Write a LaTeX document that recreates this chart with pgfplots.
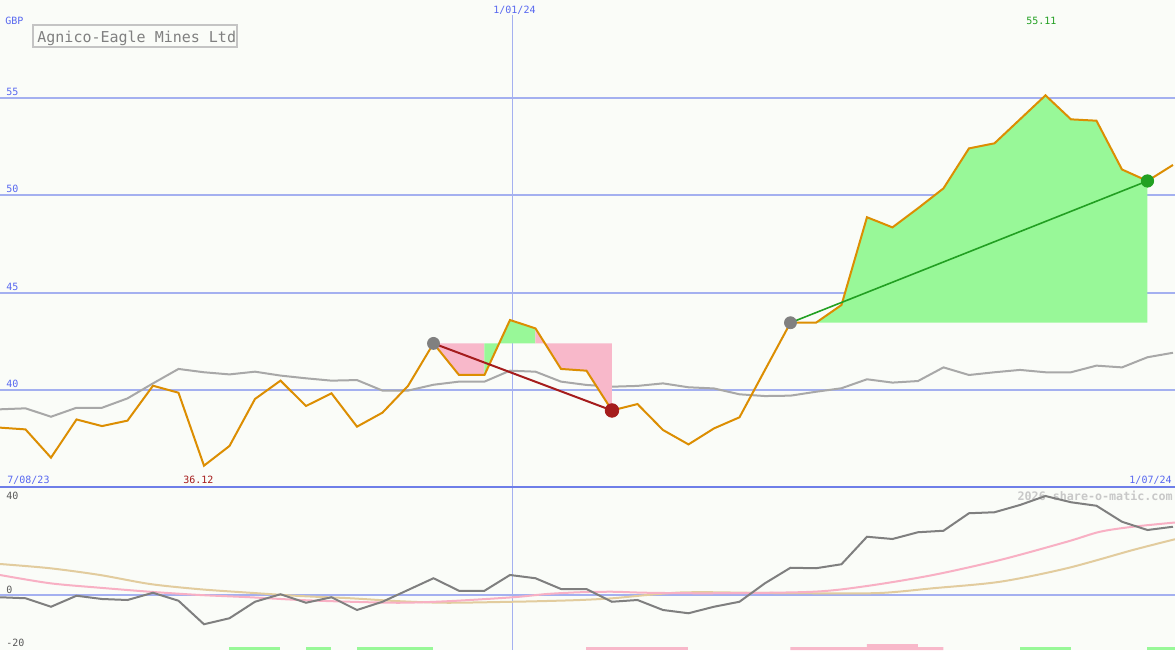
\documentclass[border=0pt]{standalone}
\usepackage{pgfplots}
\usepackage{pgfplotstable}
\pgfplotsset{compat=1.18}
\usepackage{fontspec}
\newfontfamily\mono{DejaVu Sans Mono}

\definecolor{bg}{HTML}{FAFCF8}
\definecolor{gridblue}{HTML}{A4B0F0}
\definecolor{sepblue}{HTML}{6E7EE8}
\definecolor{lblue}{HTML}{5868F0}
\definecolor{price}{HTML}{DC8E02}
\definecolor{mavg}{HTML}{A8A8A8}
\definecolor{upfill}{HTML}{98F898}
\definecolor{downfill}{HTML}{F8B8CA}
\definecolor{downline}{HTML}{A51C1C}
\definecolor{upline}{HTML}{22A022}
\definecolor{dotgrey}{HTML}{808080}
\definecolor{momgrey}{HTML}{7F7F7F}
\definecolor{sigpink}{HTML}{F8B0C4}
\definecolor{sigtan}{HTML}{E2CC9E}
\definecolor{boxgrey}{HTML}{C4C4C4}
\definecolor{titlegrey}{HTML}{808080}
\definecolor{lowlbl}{HTML}{5A5A5A}
\definecolor{wmark}{HTML}{C8C8C8}

% weekly closes (GBP), 10-week average, momentum
\pgfplotstableread{
i  p      ma     m
0  38.07  39.01  -0.9
1  37.98  39.06  -1.3
2  36.53  38.63  -4.7
3  38.49  39.09  -0.3
4  38.15  39.09  -1.6
5  38.43  39.57  -2.0
6  40.22  40.34   0.9
7  39.86  41.08  -2.3
8  36.12  40.91 -11.7
9  37.13  40.80  -9.3
10 39.54  40.94  -2.7
11 40.48  40.74   0.3
12 39.18  40.60  -3.1
13 39.83  40.48  -0.9
14 38.12  40.51  -6.0
15 38.84  39.97  -2.7
16 40.21  39.97   2.0
17 42.39  40.27   6.7
18 40.77  40.43   1.7
19 40.77  40.43   1.7
20 43.59  40.99   8.0
21 43.16  40.94   6.7
22 41.08  40.43   2.4
23 40.99  40.26   2.4
24 38.95  40.17  -2.7
25 39.28  40.21  -2.0
26 37.95  40.34  -6.0
27 37.21  40.14  -7.3
28 38.03  40.08  -4.7
29 38.60  39.78  -2.7
30 41.03  39.69   4.7
31 43.45  39.71  10.9
32 43.45  39.91  10.7
33 44.36  40.09  12.3
34 48.86  40.55  23.3
35 48.34  40.38  22.4
36 49.32  40.46  25.1
37 50.34  41.16  25.7
38 52.39  40.77  32.7
39 52.65  40.91  33.1
40 53.88  41.03  36.0
41 55.11  40.91  39.6
42 53.88  40.91  37.1
43 53.81  41.25  35.7
44 51.31  41.16  29.3
45 50.72  41.68  26.0
46 51.54  41.91  27.3
}\prices

\begin{document}
\begin{tikzpicture}
\fill[bg] (0pt,0pt) rectangle (587.5pt,325pt);
% watermark sits behind the plots
\begin{scope}[shift={(0pt,325pt)}, x=0.5pt, y=-0.5pt]
\node[anchor=base east, inner sep=0pt, text=wmark, font=\mono\bfseries\fontsize{5.85pt}{7pt}\selectfont] at (1173,500) {2026 share-o-matic.com};
\end{scope}

% upper panel: price
\begin{axis}[
    at={(0pt,81.5pt)}, anchor=south west,
    scale only axis, width=587.5pt, height=243.5pt,
    xmin=0, xmax=46.08, ymin=35.026, ymax=60,
    axis line style={draw=none}, major tick length=0pt,
    xtick={20.08}, ytick={40,45,50,55},
    xticklabels={}, yticklabels={},
    xmajorgrids, ymajorgrids,
    x grid style={gridblue, line width=0.5pt},
    y grid style={gridblue, line width=1pt},
]
\addplot[mavg, line width=1pt] table[x=i, y=ma] {\prices};

\addplot[fill=downfill, draw=none] coordinates {(17,42.39) (18,40.77) (19,40.77) (19,42.39)} -- cycle;
\addplot[fill=upfill, draw=none] coordinates {(19,42.39) (19,40.77) (20,43.59) (21,43.16) (21,42.39)} -- cycle;
\addplot[fill=downfill, draw=none] coordinates {(21,42.39) (21,43.16) (22,41.08) (23,40.99) (24,38.95) (24,42.39)} -- cycle;
\addplot[fill=upfill, draw=none] coordinates {(31,43.45) (32,43.45) (33,44.36) (34,48.86) (35,48.34) (36,49.32) (37,50.34) (38,52.39) (39,52.65) (40,53.88) (41,55.11) (42,53.88) (43,53.81) (44,51.31) (45,50.72) (45,43.45)} -- cycle;

\addplot[price, line width=1pt] table[x=i, y=p] {\prices};

\addplot[downline, line width=1pt] coordinates {(17,42.39) (24,38.95)};
\addplot[upline, line width=0.8pt] coordinates {(31,43.45) (45,50.72)};

\addplot[only marks, mark=*, mark size=3pt, mark options={draw=dotgrey, fill=dotgrey}] coordinates {(17,42.39) (31,43.45)};
\addplot[only marks, mark=*, mark size=3.4pt, mark options={draw=downline, fill=downline}] coordinates {(24,38.95)};
\addplot[only marks, mark=*, mark size=3.1pt, mark options={draw=upline, fill=upline}] coordinates {(45,50.72)};
\end{axis}

% lower panel: momentum
\begin{axis}[
    at={(0pt,0pt)}, anchor=south west,
    scale only axis, width=587.5pt, height=81.5pt,
    xmin=0, xmax=46.08, ymin=-22, ymax=43.2,
    axis line style={draw=none}, major tick length=0pt,
    xtick={20.08}, ytick={0},
    xticklabels={}, yticklabels={},
    xmajorgrids, ymajorgrids,
    x grid style={gridblue, line width=0.5pt},
    y grid style={gridblue, line width=1pt},
]
\addplot[sigtan, line width=1pt, smooth] coordinates {
(0,12.4) (1.96,10.7) (3.92,8) (5.88,4.4) (7.84,2.3) (9.8,0.9) (11.76,-0.4) (13.73,-1.3)
(15.69,-2.5) (17.53,-3.1) (20.12,-2.7) (21.45,-2.4) (22.75,-2) (24.04,-1.3) (25.37,0)
(26.67,1.0) (27.96,1.1) (29.29,0.9) (31.88,0.7) (34.5,0.8) (36.59,2.7) (39.22,5.3)
(41.84,10.7) (44.43,18) (46.08,22.3)};
\addplot[sigpink, line width=1pt, smooth] coordinates {
(0,8) (1.96,4.7) (3.92,2.9) (5.88,1.3) (7.84,0) (9.8,-0.9) (11.76,-2) (13.73,-2.7)
(15.69,-3.1) (17.53,-2.5) (20.12,-0.9) (21.45,0.4) (22.75,1.1) (24.04,1.3) (25.37,0.9)
(27.96,0.7) (31.88,1.3) (34,3.6) (36.59,8) (39.22,14) (41.84,21.3) (43.14,25.3)
(44.43,27.3) (46.08,29)};
\addplot[momgrey, line width=1pt] table[x=i, y=m] {\prices};

\addplot[fill=upfill, draw=none] coordinates {(9,-22) (9,-20.8) (11,-20.8) (11,-22)} -- cycle;
\addplot[fill=upfill, draw=none] coordinates {(12,-22) (12,-20.8) (13,-20.8) (13,-22)} -- cycle;
\addplot[fill=upfill, draw=none] coordinates {(14,-22) (14,-20.8) (17,-20.8) (17,-22)} -- cycle;
\addplot[fill=downfill, draw=none] coordinates {(23,-22) (23,-20.8) (27,-20.8) (27,-22)} -- cycle;
\addplot[fill=downfill, draw=none] coordinates {(31,-22) (31,-20.8) (34,-20.8) (34,-19.6) (36,-19.6) (36,-20.8) (37,-20.8) (37,-22)} -- cycle;
\addplot[fill=upfill, draw=none] coordinates {(40,-22) (40,-20.8) (42,-20.8) (42,-22)} -- cycle;
\addplot[fill=upfill, draw=none] coordinates {(45,-22) (45,-20.8) (46.08,-20.8) (46.08,-22)} -- cycle;
\end{axis}

% texts, placed in reference pixel coordinates (y downward)
\begin{scope}[shift={(0pt,325pt)}, x=0.5pt, y=-0.5pt]
\draw[sepblue, line width=1pt] (0,487) -- (1175,487);
\fill[bg] (488,0) rectangle (540,15);
\begin{scope}[every node/.style={inner sep=0pt, font=\mono\fontsize{5pt}{6pt}\selectfont}]
\node[anchor=base west, text=lblue] at (5,25) {GBP};
\node[anchor=base west, text=lblue] at (6,95) {55};
\node[anchor=base west, text=lblue] at (6,192.5) {50};
\node[anchor=base west, text=lblue] at (6,290) {45};
\node[anchor=base west, text=lblue] at (6,387.5) {40};
\node[anchor=base west, text=lblue] at (493,13) {1/01/24};
\node[anchor=base west, text=upline] at (1026,25) {55.11};
\node[anchor=base west, text=downline] at (183,483) {36.12};
\node[anchor=base west, text=lblue] at (7,483) {7/08/23};
\node[anchor=base east, text=lblue] at (1172,483) {1/07/24};
\node[anchor=base west, text=lowlbl] at (6,499) {40};
\node[anchor=base west, text=lowlbl] at (6,593) {0};
\node[anchor=base west, text=lowlbl] at (6,646) {-20};
\end{scope}
\fill[bg] (32,24) rectangle (238,48);
\draw[boxgrey, line width=1pt] (33,25) rectangle (237,47);
\node[anchor=base west, inner sep=0pt, text=titlegrey, font=\mono\fontsize{7.5pt}{9pt}\selectfont] at (37,42) {Agnico-Eagle Mines Ltd};
\end{scope}

\pgfresetboundingbox
\useasboundingbox (0pt,0pt) rectangle (587.5pt,325pt);
\end{tikzpicture}
\end{document}
